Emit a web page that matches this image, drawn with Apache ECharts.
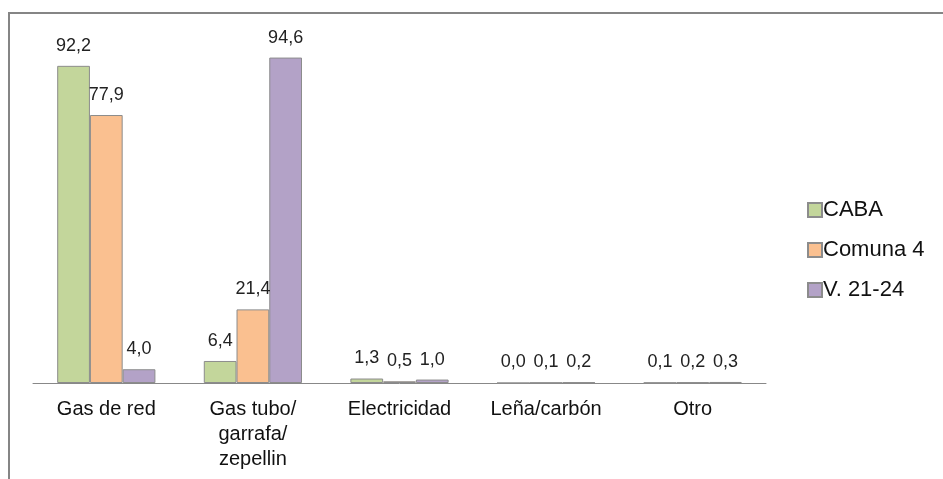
<!DOCTYPE html>
<html>
<head>
<meta charset="utf-8">
<script src="https://cdn.jsdelivr.net/npm/echarts@6/dist/echarts.min.js"></script>
<style>
  html, body { margin: 0; padding: 0; background: #fff; }
  #grafico { width: 943px; height: 479px; }
</style>
</head>
<body>
<div id="grafico"></div>
<script>
var categorias = ['Gas de red', 'Gas tubo/\ngarrafa/\nzepellin', 'Electricidad', 'Leña/carbón', 'Otro'];
var caba = [92.2, 6.4, 1.3, 0.0, 0.1];
var comuna4 = [77.9, 21.4, 0.5, 0.1, 0.2];
var villa = [4.0, 94.6, 1.0, 0.2, 0.3];

var fuente = 'Liberation Sans, Arial, sans-serif';
var grafico = echarts.init(document.getElementById('grafico'));

// etiqueta con coma decimal
function coma(p) {
    return p.value.toFixed(1).replace('.', ',');
}

function serie(nombre, datos, color) {
    return {
        name: nombre,
        type: 'bar',
        data: datos,
        barGap: '0%',
        barCategoryGap: '33%',
        itemStyle: { color: color, borderColor: '#8c8c8c', borderWidth: 1 },
        label: {
            show: true,
            position: 'top',
            distance: 11,
            formatter: coma,
            color: '#222',
            fontSize: 18,
            fontFamily: fuente
        }
    };
}

option = {
    animation: false,
    backgroundColor: '#fff',
    grid: { left: 33, right: 177, top: 39, bottom: 96 },
    legend: {
        orient: 'vertical',
        left: 802,
        top: 194,
        itemWidth: 14,
        itemHeight: 14,
        itemGap: 18,
        icon: 'rect',
        textStyle: { fontSize: 22, color: '#111', fontFamily: fuente, padding: [0, 0, 0, -4] },
        data: ['CABA', 'Comuna 4', 'V. 21-24']
    },
    xAxis: {
        type: 'category',
        data: categorias,
        axisLine: { lineStyle: { color: '#888', width: 1 } },
        axisTick: { length: 6, lineStyle: { color: '#888' } },
        axisLabel: {
            color: '#111',
            fontSize: 20,
            fontFamily: fuente,
            margin: 14,
            lineHeight: 25,
            interval: 0
        }
    },
    yAxis: {
        type: 'value',
        min: 0,
        max: 100,
        show: false
    },
    graphic: [{
        type: 'rect',
        shape: { x: 9, y: 13, width: 1200, height: 1200 },
        style: { fill: 'none', stroke: '#858585', lineWidth: 2 },
        silent: true
    }],
    series: [
        serie('CABA', caba, '#c3d69b'),
        serie('Comuna 4', comuna4, '#fac090'),
        serie('V. 21-24', villa, '#b3a2c7')
    ]
};
grafico.setOption(option, true);
</script>
</body>
</html>
